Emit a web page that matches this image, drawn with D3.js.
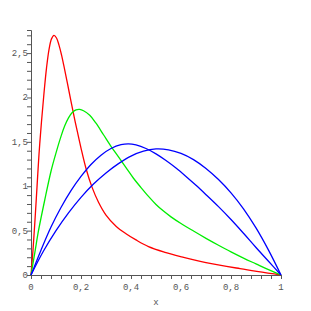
<!DOCTYPE html>
<html>
<head>
<meta charset="utf-8">
<script src="https://cdn.jsdelivr.net/npm/d3@7"></script>
<style>
  body { margin: 0; background: #fff; }
  text { font-family: "Liberation Mono", "DejaVu Sans Mono", monospace; }
</style>
</head>
<body>
<div id="chart"></div>
<script>
// values
var redX   = [0, 0.008, 0.016, 0.024, 0.032, 0.042, 0.052, 0.062, 0.072, 0.082, 0.092, 0.102, 0.112, 0.122, 0.132, 0.145, 0.159, 0.172, 0.185, 0.2, 0.22, 0.244, 0.27, 0.3, 0.34, 0.38, 0.42, 0.47, 0.536, 0.603, 0.7, 0.836, 1];
var redY   = [0, 0.28, 0.62, 0.99, 1.36, 1.73, 2.05, 2.33, 2.54, 2.66, 2.70, 2.67, 2.59, 2.48, 2.35, 2.17, 1.97, 1.79, 1.62, 1.43, 1.20, 0.99, 0.82, 0.675, 0.55, 0.465, 0.395, 0.32, 0.256, 0.205, 0.14, 0.072, 0];

var greenX = [0, 0.017, 0.028, 0.055, 0.081, 0.101, 0.121, 0.135, 0.15, 0.165, 0.18, 0.195, 0.21, 0.235, 0.26, 0.29, 0.32, 0.35, 0.38, 0.41, 0.44, 0.47, 0.5, 0.53, 0.56, 0.6, 0.65, 0.7, 0.75, 0.8, 0.85, 0.9, 0.95, 1];
var greenY = [0, 0.28, 0.47, 0.845, 1.18, 1.385, 1.57, 1.68, 1.77, 1.83, 1.86, 1.865, 1.85, 1.80, 1.71, 1.58, 1.45, 1.33, 1.21, 1.09, 0.985, 0.885, 0.795, 0.72, 0.655, 0.58, 0.495, 0.413, 0.335, 0.26, 0.19, 0.125, 0.06, 0];

var blue1X = [0, 0.04, 0.08, 0.12, 0.16, 0.2, 0.24, 0.28, 0.32, 0.36, 0.39, 0.42, 0.46, 0.5, 0.54, 0.58, 0.62, 0.66, 0.7, 0.75, 0.8, 0.85, 0.9, 0.95, 1];
var blue1Y = [0, 0.28, 0.54, 0.76, 0.95, 1.11, 1.245, 1.35, 1.425, 1.468, 1.478, 1.465, 1.425, 1.365, 1.29, 1.205, 1.11, 1.01, 0.905, 0.77, 0.625, 0.47, 0.31, 0.155, 0];

var blue2X = [0, 0.05, 0.1, 0.15, 0.2, 0.25, 0.3, 0.35, 0.4, 0.45, 0.5, 0.55, 0.6, 0.65, 0.7, 0.75, 0.8, 0.85, 0.9, 0.95, 1];
var blue2Y = [0, 0.27, 0.5, 0.70, 0.875, 1.025, 1.15, 1.255, 1.34, 1.395, 1.42, 1.41, 1.37, 1.30, 1.20, 1.075, 0.925, 0.745, 0.53, 0.28, 0];

var xTickLabels = [0, 0.2, 0.4, 0.6, 0.8, 1];
var yTickLabels = [0, 0.5, 1, 1.5, 2, 2.5];

var series = [
  {x: redX, y: redY, color: "#ff0000"},
  {x: greenX, y: greenY, color: "#00ee00"},
  {x: blue1X, y: blue1Y, color: "#0000ff"},
  {x: blue2X, y: blue2Y, color: "#0000ff"}
];

var W = 311, H = 311;
var margin = {top: 30, right: 30, bottom: 36, left: 31};

var svg = d3.select("#chart").append("svg")
  .attr("width", W).attr("height", H);

var x = d3.scaleLinear().domain([0, 1]).range([margin.left, W - margin.right]);
var y = d3.scaleLinear().domain([0, 2.76]).range([H - margin.bottom, margin.top]);

// comma as decimal sign
var fmt = function(d) { return d3.format("")(d).replace(".", ","); };

// x axis
var xAxis = svg.append("g")
  .attr("transform", "translate(0," + y(0) + ")")
  .call(d3.axisBottom(x).tickValues(d3.range(0, 1.0001, 0.04)).tickSize(4).tickFormat(""));
xAxis.select(".domain").attr("stroke", "#555");
xAxis.selectAll(".tick line").attr("stroke", "#555");

svg.append("g").selectAll("text")
  .data(xTickLabels)
  .join("text")
    .attr("x", d => x(d))
    .attr("y", y(0) + 15)
    .attr("text-anchor", "middle")
    .attr("fill", "#555")
    .style("font-size", "9px")
    .text(fmt);

// y axis
var yAxis = svg.append("g")
  .attr("transform", "translate(" + x(0) + ",0)")
  .call(d3.axisLeft(y).tickValues(d3.range(0, 2.70001, 0.1)).tickSize(4).tickFormat(""));
yAxis.select(".domain").attr("stroke", "#555");
yAxis.selectAll(".tick line").attr("stroke", "#555");

svg.append("g").selectAll("text")
  .data(yTickLabels)
  .join("text")
    .attr("x", x(0) - 3)
    .attr("y", d => y(d) + 3)
    .attr("text-anchor", "end")
    .attr("fill", "#555")
    .style("font-size", "9px")
    .text(fmt);

svg.append("text")
  .attr("x", x(0.5))
  .attr("y", H - 6)
  .attr("text-anchor", "middle")
  .attr("fill", "#555")
  .style("font-size", "9px")
  .text("x");

// curves
var line = d3.line()
  .x(d => x(d[0]))
  .y(d => y(d[1]))
  .curve(d3.curveCatmullRom.alpha(0.5));

svg.append("g").selectAll("path")
  .data(series)
  .join("path")
    .attr("d", s => line(s.x.map((v, i) => [v, s.y[i]])))
    .attr("fill", "none")
    .attr("stroke", s => s.color)
    .attr("stroke-width", 1.3);
</script>
</body>
</html>
